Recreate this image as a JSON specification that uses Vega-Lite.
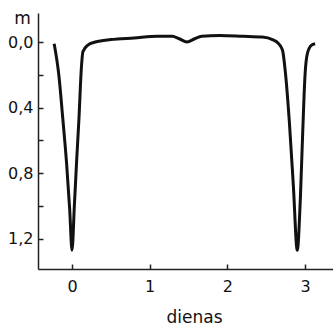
{
  "$schema": "https://vega.github.io/schema/vega-lite/v6.json",
  "width": 295,
  "height": 256,
  "autosize": {"type": "none"},
  "padding": {"left": 38, "top": 13, "right": 0, "bottom": 58},
  "background": "white",
  "config": {
    "view": {"stroke": null},
    "axis": {
      "grid": false,
      "domainColor": "#222",
      "domainWidth": 1.5,
      "tickColor": "#222",
      "tickWidth": 1.5,
      "labelFont": "DejaVu Sans",
      "labelFontSize": 16,
      "labelColor": "#111",
      "titleFont": "DejaVu Sans",
      "titleFontWeight": "normal",
      "titleColor": "#111"
    }
  },
  "data": {
    "values": [
      {"t": -0.23, "m": 0.01},
      {"t": -0.17, "m": 0.2},
      {"t": -0.12, "m": 0.46},
      {"t": -0.07, "m": 0.74},
      {"t": -0.03, "m": 1.02},
      {"t": 0.0, "m": 1.27},
      {"t": 0.03, "m": 1.0},
      {"t": 0.06, "m": 0.72},
      {"t": 0.09, "m": 0.46},
      {"t": 0.12, "m": 0.16},
      {"t": 0.14, "m": 0.06},
      {"t": 0.2, "m": 0.02},
      {"t": 0.3, "m": 0.0},
      {"t": 0.5, "m": -0.015},
      {"t": 0.8, "m": -0.025},
      {"t": 1.1, "m": -0.035},
      {"t": 1.29, "m": -0.035},
      {"t": 1.38, "m": -0.02},
      {"t": 1.48, "m": 0.0},
      {"t": 1.58, "m": -0.02},
      {"t": 1.67, "m": -0.035},
      {"t": 1.9, "m": -0.04},
      {"t": 2.2, "m": -0.035},
      {"t": 2.45, "m": -0.03},
      {"t": 2.58, "m": -0.015},
      {"t": 2.66, "m": 0.01},
      {"t": 2.71, "m": 0.05},
      {"t": 2.75, "m": 0.2},
      {"t": 2.8, "m": 0.5},
      {"t": 2.85, "m": 0.88},
      {"t": 2.9, "m": 1.27},
      {"t": 2.94, "m": 0.95},
      {"t": 2.97, "m": 0.55},
      {"t": 3.0, "m": 0.2},
      {"t": 3.03, "m": 0.07},
      {"t": 3.08, "m": 0.02},
      {"t": 3.13, "m": 0.01}
    ]
  },
  "mark": {"type": "line", "interpolate": "monotone", "color": "#111", "strokeWidth": 3},
  "encoding": {
    "x": {
      "field": "t",
      "type": "quantitative",
      "scale": {"domain": [-0.438, 3.36], "nice": false, "zero": false},
      "axis": {
        "values": [0, 1, 2, 3],
        "tickSize": -5,
        "labelPadding": 14,
        "title": "dienas",
        "titleFontSize": 17,
        "titleAlign": "center",
        "titleBaseline": "alphabetic",
        "titleX": 156,
        "titleY": 53
      }
    },
    "y": {
      "field": "m",
      "type": "quantitative",
      "scale": {"domain": [-0.177, 1.384], "reverse": true, "nice": false, "zero": false},
      "axis": {
        "values": [0, 0.2, 0.4, 0.6, 0.8, 1.0, 1.2],
        "labelExpr": "round(datum.value*10) % 4 == 0 ? replace(format(datum.value, '.1f'), '.', ',') : ''",
        "tickSize": -5,
        "labelPadding": 10,
        "title": "m",
        "titleFontSize": 17,
        "titleAngle": 0,
        "titleAlign": "center",
        "titleBaseline": "alphabetic",
        "titleX": -16,
        "titleY": 10
      }
    }
  }
}
